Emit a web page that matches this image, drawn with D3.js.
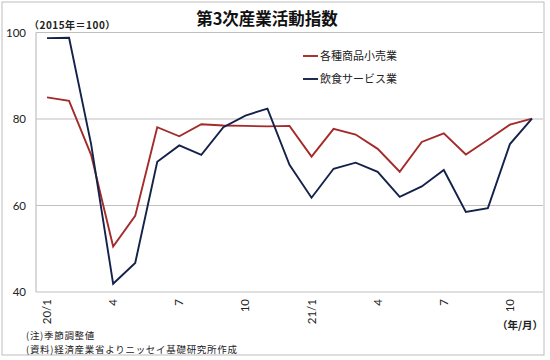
<!DOCTYPE html>
<html><head><meta charset="utf-8">
<script src="https://cdn.jsdelivr.net/npm/d3@7"></script>
<style>body{margin:0;background:#fff}svg{display:block}</style>
</head><body><svg id="c" width="550" height="360"></svg>
<script>
const months = ["20/1","20/2","20/3","20/4","20/5","20/6","20/7","20/8","20/9","20/10","20/11","20/12",
  "21/1","21/2","21/3","21/4","21/5","21/6","21/7","21/8","21/9","21/10","21/11"];
const tickLabels = ["20/1","","","4","","","7","","","10","","","21/1","","","4","","","7","","","10",""];
const retail = [85.0,84.2,71.7,50.5,57.6,78.1,76.0,78.8,78.5,78.4,78.3,78.4,71.3,77.7,76.4,73.1,67.8,74.7,76.7,71.8,75.2,78.7,80.1];
const food = [98.7,98.8,74.2,41.9,46.7,70.1,73.9,71.7,78.1,80.8,82.4,69.4,61.8,68.5,69.9,67.8,62.0,64.4,68.2,58.5,59.4,74.2,80.1];
const yTicks = [40,60,80,100];
const seriesNames = ["各種商品小売業","飲食サービス業"];
const colors = ["#a52a2a","#14224a"];

const svg = d3.select("#c");
const jp = "'Noto Sans CJK JP', sans-serif";
const num = "Lato, 'Liberation Sans', sans-serif";

svg.append("rect").attr("x",2).attr("y",2).attr("width",542).attr("height",353)
  .attr("fill","#fff").attr("stroke","#bdbdbd").attr("stroke-width",1);

const L=36, R=543, T=32.5, B=292;
const x = d3.scaleBand().domain(months).range([L,R]);
const y = d3.scaleLinear().domain([40,100]).range([B,T]);

// gridlines
svg.append("g").selectAll("line").data(yTicks).join("line")
  .attr("x1",L).attr("x2",R).attr("y1",d=>y(d)).attr("y2",d=>y(d))
  .attr("stroke","#c0c0c0").attr("stroke-width",1.2);
svg.append("line").attr("x1",L).attr("x2",L).attr("y1",T).attr("y2",B)
  .attr("stroke","#c0c0c0").attr("stroke-width",1.2);

// y axis labels
const yAxis = d3.axisLeft(y).tickValues(yTicks).tickSize(0).tickPadding(10);
const gy = svg.append("g").attr("transform",`translate(${L},0)`).call(yAxis);
gy.select(".domain").remove();
gy.selectAll("text").attr("font-family",num).attr("font-size",11.5).attr("fill","#222");

// x axis labels
const xAxis = d3.axisBottom(x).tickFormat((d,i)=>tickLabels[i]).tickSize(0).tickPadding(0);
const gx = svg.append("g").attr("transform",`translate(0,${B})`).call(xAxis);
gx.select(".domain").remove();
gx.selectAll("text").attr("font-family",num).attr("font-size",11.5).attr("fill","#222")
  .attr("transform","rotate(-90)").attr("text-anchor","end").attr("dy","0.35em")
  .attr("x",-7).attr("y",0);

// lines
const line = d3.line().x((d,i)=>x(months[i])+x.bandwidth()/2).y(d=>y(d));
[retail, food].forEach((s,k)=>{
  svg.append("path").datum(s).attr("d",line).attr("fill","none")
    .attr("stroke",colors[k]).attr("stroke-width",1.9).attr("stroke-linejoin","miter");
});

// title
svg.append("text").attr("x",267).attr("y",25).attr("text-anchor","middle")
  .attr("font-family",jp).attr("font-weight","bold").attr("font-size",16.5).attr("fill","#111")
  .text("第3次産業活動指数");
svg.append("text").attr("x",29).attr("y",29).attr("font-family",jp).attr("font-weight","bold")
  .attr("font-size",10).attr("letter-spacing",0.5).attr("fill","#222").text("（2015年＝100）");

// legend
seriesNames.forEach((n,k)=>{
  const ly = 56 + k*23;
  svg.append("line").attr("x1",303).attr("x2",318).attr("y1",ly).attr("y2",ly)
    .attr("stroke",colors[k]).attr("stroke-width",1.9);
  svg.append("text").attr("x",320).attr("y",ly+4).attr("font-family",jp).attr("font-size",11)
    .attr("fill","#222").text(n);
});

svg.append("text").attr("x",543).attr("y",329).attr("text-anchor","end").attr("font-family",jp)
  .attr("font-weight","bold").attr("font-size",10.5).attr("fill","#222").text("（年/月）");
svg.append("text").attr("x",26).attr("y",339).attr("font-family",jp).attr("font-size",9.5)
  .attr("letter-spacing",0.7).attr("fill","#222").text("(注)季節調整値");
svg.append("text").attr("x",26).attr("y",353).attr("font-family",jp).attr("font-size",9.5)
  .attr("letter-spacing",0.7).attr("fill","#222").text("(資料)経済産業省よりニッセイ基礎研究所作成");
</script></body></html>
